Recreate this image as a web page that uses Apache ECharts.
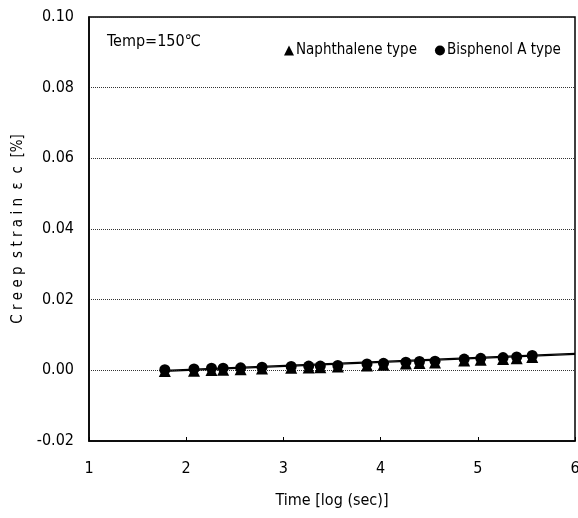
<!DOCTYPE html>
<html>
<head>
<meta charset="utf-8">
<script src="https://cdn.jsdelivr.net/npm/echarts@6/dist/echarts.min.js"></script>
<style>
  html, body { margin: 0; padding: 0; background: #fff; }
  #chart { width: 578px; height: 518px; }
</style>
</head>
<body>
<div id="chart"></div>
<script>
// log10 of time in seconds
var logTime = [1.78, 2.08, 2.26, 2.38, 2.56, 2.78, 3.08, 3.26, 3.38, 3.56,
               3.86, 4.03, 4.26, 4.40, 4.56, 4.86, 5.03, 5.26, 5.40, 5.56];
// creep strain [%]
var naphthalene = [-0.0002, -0.0001, 0.0001, 0.0002, 0.0003, 0.0005, 0.0007, 0.0008, 0.0009, 0.0011,
                   0.0014, 0.0016, 0.0019, 0.0021, 0.0022, 0.0028, 0.0030, 0.0032, 0.0034, 0.0038];
var bisphenol = [0.0002, 0.0004, 0.0006, 0.0006, 0.0007, 0.0009, 0.0011, 0.0012, 0.0012, 0.0014,
                 0.0018, 0.0020, 0.0023, 0.0025, 0.0026, 0.0032, 0.0034, 0.0036, 0.0038, 0.0042];
// fitted lines (end points)
var fitX = [1.78, 6];
var naphFit = [-0.0003, 0.0045];
var bisFit = [0.0000, 0.0048];

var xTicks = [1, 2, 3, 4, 5, 6];

function pairs(xs, ys) {
    return xs.map(function (x, i) { return [x, ys[i]]; });
}

var font = "'DejaVu Sans Condensed', 'Liberation Sans Narrow', Arial, sans-serif";
var myChart = echarts.init(document.getElementById('chart'));

myChart.setOption({
    animation: false,
    grid: { left: 89, right: 3, top: 17, bottom: 77, outerBoundsMode: 'none',
        show: true, borderColor: '#000', borderWidth: 1.5 },
    legend: {
        top: 38, left: 279,
        itemGap: 18, itemWidth: 10, itemHeight: 10,
        textStyle: { fontFamily: font, fontSize: 15, color: '#000', padding: [0, 0, 0, -3] },
        data: [
            { name: 'Naphthalene type', icon: 'triangle' },
            { name: 'Bisphenol A type', icon: 'circle' }
        ]
    },
    graphic: [{
        type: 'text', left: 107, top: 34,
        style: { text: 'Temp=150℃', font: '16px ' + font, fill: '#000' }
    }],
    xAxis: {
        type: 'value', min: 1, max: 6, interval: 1,
        name: 'Time [log (sec)]', nameLocation: 'middle', nameGap: 52,
        nameTextStyle: { fontFamily: font, fontSize: 16, color: '#000' },
        axisLine: { onZero: false, lineStyle: { color: '#000', width: 1.5 } },
        axisTick: { inside: true, length: 4, lineStyle: { color: '#000' } },
        axisLabel: { margin: 20, fontFamily: font, fontSize: 16, color: '#000',
            formatter: function (v) { return xTicks.indexOf(v) >= 0 ? String(v) : ''; } },
        splitLine: { show: false }
    },
    yAxis: {
        type: 'value', min: -0.02, max: 0.10, interval: 0.02,
        name: 'C r e e p  s t r a i n  ε  c  [%]', nameLocation: 'middle', nameGap: 62,
        nameTextStyle: { fontFamily: font, fontSize: 15, color: '#000' },
        axisLine: { lineStyle: { color: '#000', width: 1.5 } },
        axisTick: { show: false },
        axisLabel: { margin: 15, fontFamily: font, fontSize: 16, color: '#000',
            formatter: function (v) { return v.toFixed(2); } },
        splitLine: { show: true, lineStyle: { color: '#333', type: 'dotted', width: 1 } }
    },
    series: [
        {
            name: 'Naphthalene type', type: 'line', data: pairs(logTime, naphthalene),
            symbol: 'triangle', symbolSize: 12, itemStyle: { color: '#000' },
            lineStyle: { width: 0 }, z: 3
        },
        {
            name: 'Bisphenol A type', type: 'line', data: pairs(logTime, bisphenol),
            symbol: 'circle', symbolSize: 11, itemStyle: { color: '#000' },
            lineStyle: { width: 0 }, z: 4
        },
        {
            name: 'naphFit', type: 'line', data: pairs(fitX, naphFit), showSymbol: false,
            lineStyle: { color: '#000', width: 1.2 }, silent: true
        },
        {
            name: 'bisFit', type: 'line', data: pairs(fitX, bisFit), showSymbol: false,
            lineStyle: { color: '#000', width: 1.2 }, silent: true
        }
    ]
});
</script>
</body>
</html>
